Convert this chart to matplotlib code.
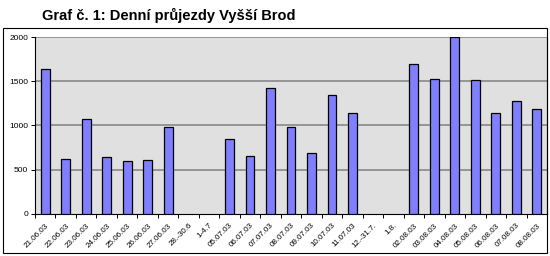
import numpy as np
import matplotlib
matplotlib.use("Agg")
import matplotlib.pyplot as plt
from matplotlib.patches import Rectangle

plt.rcParams["font.family"] = ["Liberation Sans", "DejaVu Sans"]

TITLE = "Graf č. 1: Denní průjezdy Vyšší Brod"

days = ["21.06.03", "22.06.03", "23.06.03", "24.06.03", "25.06.03", "26.06.03",
        "27.06.03", "28.-30.6", "1-4.7", "05.07.03", "06.07.03", "07.07.03",
        "08.07.03", "09.07.03", "10.07.03", "11.07.03", "12.-31.7.", "1.8.",
        "02.08.03", "03.08.03", "04.08.03", "05.08.03", "06.08.03", "07.08.03",
        "08.08.03"]
# empty periods have no bar (NaN)
crossings = [1640, 615, 1068, 638, 597, 613, 986, np.nan, np.nan, 842, 650, 1427,
             986, 683, 1343, 1140, np.nan, np.nan, 1698, 1528, 2000, 1512, 1140,
             1272, 1188]
y_ticks = [0, 500, 1000, 1500, 2000]

BAR_COLOR = "#8080FF"
PLOT_BG = "#E0E0E0"
GRID_COLOR = "#808080"

fig = plt.figure(figsize=(5.5, 2.56), dpi=100)
fig.patch.set_facecolor("white")

# outer chart frame
fig.patches.append(Rectangle((3 / 550, 3 / 256), 544 / 550, 225 / 256,
                             transform=fig.transFigure, fill=False,
                             edgecolor="black", lw=0.8, zorder=0))

fig.text(42 / 550, 1 - 15 / 256, TITLE, fontsize=10.5, fontweight="bold",
         ha="left", va="center")

ax = fig.add_axes([35 / 550, 1 - 213.7 / 256, 512 / 550, 176.7 / 256])
ax.set_facecolor(PLOT_BG)

x = np.arange(len(days))
ax.bar(x, crossings, width=0.43, color=BAR_COLOR, edgecolor="black",
       linewidth=0.9, zorder=3)

ax.set_xlim(-0.5, len(days) - 0.5)
ax.set_ylim(0, 2000)
ax.set_yticks(y_ticks)
ax.set_yticklabels([str(v) for v in y_ticks], fontsize=6)
for v in y_ticks[1:]:
    ax.axhline(v, color=GRID_COLOR, lw=1.1, zorder=1)

ax.set_xticks(x)
ax.set_xticklabels(days, rotation=45, ha="right", rotation_mode="anchor",
                   fontsize=5.8)
ax.set_xticks(np.arange(len(days) + 1) - 0.5, minor=True)
ax.tick_params(axis="x", which="major", length=0, pad=6)
ax.tick_params(axis="x", which="minor", length=3, width=0.7, direction="out")
ax.tick_params(axis="y", length=3, width=0.7, direction="out", pad=2)

ax.spines["top"].set_visible(False)
ax.spines["right"].set_linewidth(0.8)
ax.spines["left"].set_linewidth(0.8)
ax.spines["bottom"].set_linewidth(0.8)

fig.savefig("out.png", dpi=100)
